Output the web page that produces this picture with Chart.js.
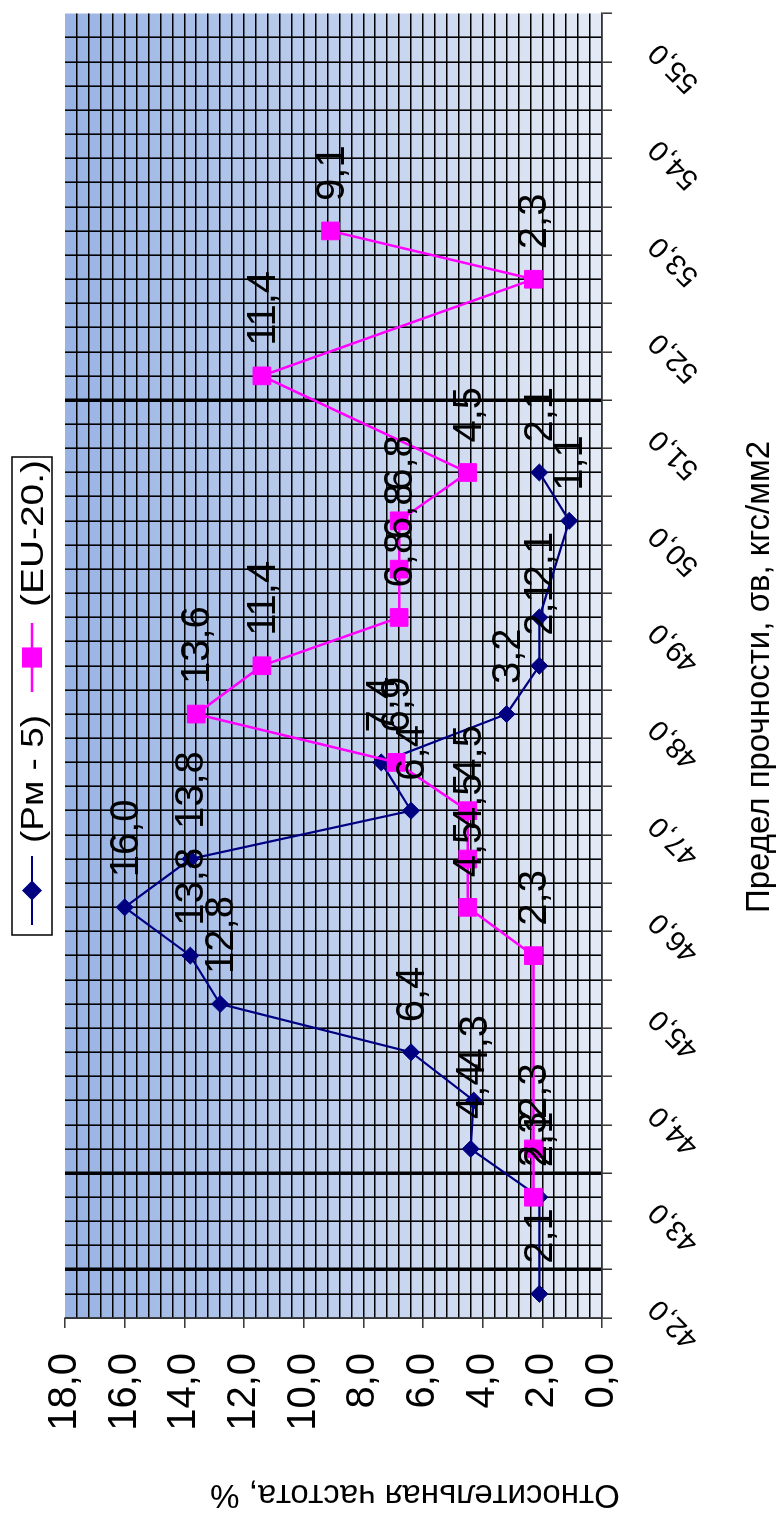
<!DOCTYPE html>
<html>
<head>
<meta charset="utf-8">
<script src="https://cdn.jsdelivr.net/npm/chart.js"></script>
<style>
  html, body { margin: 0; padding: 0; background: #fff; }
  body { width: 779px; height: 1517px; overflow: hidden; position: relative; }
  /* chart is drawn landscape and turned a quarter to the left */
  #wrap {
    position: absolute; left: 0; top: 0;
    width: 1517px; height: 779px;
    transform-origin: 0 0;
    transform: translate(0, 1517px) rotate(-90deg);
  }
</style>
</head>
<body>
<div id="wrap"><canvas id="chart" width="1517" height="779"></canvas></div>
<script>
// strength classes, kgf/mm2
const categories = [42.0, 42.5, 43.0, 43.5, 44.0, 44.5, 45.0, 45.5, 46.0, 46.5, 47.0, 47.5, 48.0, 48.5,
  49.0, 49.5, 50.0, 50.5, 51.0, 51.5, 52.0, 52.5, 53.0, 53.5, 54.0, 54.5, 55.0];

// relative frequency, %
const rm5 = [2.1, null, 2.1, 4.4, 4.3, 6.4, 12.8, 13.8, 16.0, 13.8, 6.4, 7.4, 3.2, 2.1,
  2.1, null, 1.1, 2.1, null, null, null, null, null, null, null, null, null];
const eu20 = [null, null, 2.3, 2.3, null, null, null, 2.3, 4.5, 4.5, 4.5, 6.9, 13.6, 11.4,
  6.8, 6.8, 6.8, 4.5, null, 11.4, null, 2.3, 9.1, null, null, null, null];

const xTickLabels = [42, 43, 44, 45, 46, 47, 48, 49, 50, 51, 52, 53, 54, 55];
const yTickLabels = [0, 2, 4, 6, 8, 10, 12, 14, 16, 18];

const seriesNames = ['(Рм - 5)', '(EU-20.)'];
const xTitle = 'Предел прочности, σв, кгс/мм2';
const yTitle = 'Относительная частота, %';

const FONT = '"Liberation Sans", Arial, sans-serif';
const fmt = v => v.toFixed(1).replace('.', ',');
const near = (a, b) => Math.abs(a - b) < 1e-6;

// grid every quarter class on x, every 0.4 % on y
const xGrid = [];
for (let i = 0; i <= 54; i++) xGrid.push(41.75 + i * 0.25);
const yGrid = [];
for (let i = 0; i <= 45; i++) yGrid.push(+(i * 0.4).toFixed(1));
const thickX = [42.25, 43.25, 51.25];

const toPoints = arr => categories.map((c, i) => ({ x: c, y: arr[i] }));

const bgPlugin = {
  id: 'plotBg',
  beforeDraw(chart) {
    const { ctx, chartArea: a } = chart;
    const g = ctx.createLinearGradient(0, a.top, 0, a.bottom);
    g.addColorStop(0, '#98b3e4');
    g.addColorStop(1, '#e4eaf5');
    ctx.save();
    ctx.fillStyle = g;
    ctx.fillRect(a.left, a.top, a.right - a.left, a.bottom - a.top);
    ctx.restore();
  }
};

const labelPlugin = {
  id: 'valueLabels',
  afterDatasetsDraw(chart) {
    const ctx = chart.ctx;
    ctx.save();
    ctx.font = '40px ' + FONT;
    ctx.fillStyle = '#000';
    ctx.textAlign = 'left';
    ctx.textBaseline = 'middle';
    chart.data.datasets.forEach((ds, i) => {
      chart.getDatasetMeta(i).data.forEach((pt, j) => {
        const v = ds.data[j].y;
        if (v == null) return;
        ctx.fillText(fmt(v), pt.x + 30, pt.y + 2);
      });
    });
    ctx.restore();
  }
};

const extrasPlugin = {
  id: 'extras',
  afterDraw(chart) {
    const ctx = chart.ctx;
    ctx.save();
    ctx.fillStyle = '#000';

    // axis titles
    ctx.font = '33px ' + FONT;
    ctx.textAlign = 'center';
    ctx.textBaseline = 'alphabetic';
    ctx.fillText(xTitle, 840, 769);
    ctx.save();
    ctx.translate(32, 415);
    ctx.rotate(-Math.PI / 2);
    ctx.fillText(yTitle, 0, 0);
    ctx.restore();

    // legend box
    const bx = 582, by = 12, bw = 478, bh = 40, cy = by + bh / 2;
    ctx.fillStyle = '#fff';
    ctx.fillRect(bx, by, bw, bh);
    ctx.strokeStyle = '#000';
    ctx.lineWidth = 1.5;
    ctx.strokeRect(bx, by, bw, bh);

    const items = [
      { ds: chart.data.datasets[0], x0: 592, tx: 674, tw: 128 },
      { ds: chart.data.datasets[1], x0: 825, tx: 910, tw: 147 }
    ];
    items.forEach(it => {
      ctx.strokeStyle = it.ds.borderColor;
      ctx.lineWidth = it.ds.borderWidth;
      ctx.beginPath();
      ctx.moveTo(it.x0, cy);
      ctx.lineTo(it.x0 + 69, cy);
      ctx.stroke();
      Chart.helpers.drawPoint(ctx, {
        pointStyle: it.ds.pointStyle, radius: it.ds.pointRadius, borderWidth: 1, rotation: 0
      }, it.x0 + 34.5, cy);
      ctx.fillStyle = it.ds.borderColor;
      ctx.fill();
      ctx.fillStyle = '#000';
      ctx.font = '32px ' + FONT;
      ctx.textAlign = 'left';
      ctx.textBaseline = 'middle';
      const w = ctx.measureText(it.ds.label).width;
      ctx.save();
      ctx.translate(it.tx, cy + 2);
      ctx.scale(it.tw / w, 1);
      ctx.fillText(it.ds.label, 0, 0);
      ctx.restore();
    });
    ctx.restore();
  }
};

new Chart(document.getElementById('chart'), {
  type: 'line',
  data: {
    datasets: [
      {
        label: seriesNames[0],
        data: toPoints(rm5),
        borderColor: '#000080',
        backgroundColor: '#000080',
        borderWidth: 2.2,
        pointStyle: 'rectRot',
        pointRadius: 8.5,
        pointBorderWidth: 1,
        tension: 0,
        spanGaps: true,
        order: 1
      },
      {
        label: seriesNames[1],
        data: toPoints(eu20),
        borderColor: '#ff00ff',
        backgroundColor: '#ff00ff',
        borderWidth: 2.5,
        pointStyle: 'rect',
        pointRadius: 12.5,
        pointBorderWidth: 1,
        tension: 0,
        spanGaps: true,
        order: 0
      }
    ]
  },
  options: {
    responsive: false,
    animation: false,
    devicePixelRatio: 1,
    layout: { padding: { left: 0, right: 7, top: 65, bottom: 0 } },
    plugins: { legend: { display: false }, tooltip: { enabled: false } },
    scales: {
      x: {
        type: 'linear',
        min: 41.75,
        max: 55.25,
        afterBuildTicks: axis => { axis.ticks = xGrid.map(v => ({ value: v })); },
        afterFit: axis => {
          axis.height = 177;
          axis.paddingLeft = 0;
          axis.paddingRight = 0;
        },
        border: { display: true, color: '#333', width: 1.5 },
        grid: {
          color: c => near(c.tick.value, 55.25) ? 'rgba(0,0,0,0)' : '#000',
          lineWidth: c => thickX.some(t => near(t, c.tick.value)) ? 3.5 : 1.6,
          tickColor: c => near(((c.tick.value - 41.75) / 0.5) % 1, 0) ? '#333' : 'rgba(0,0,0,0)',
          tickWidth: 1.5,
          tickLength: 10
        },
        ticks: {
          autoSkip: false,
          minRotation: 45,
          maxRotation: 45,
          padding: 30,
          labelOffset: -10,
          color: '#000',
          font: { family: FONT, size: 29 },
          callback: v => xTickLabels.some(t => near(t, v)) ? fmt(v) : ''
        }
      },
      y: {
        min: 0,
        max: 18,
        afterBuildTicks: axis => { axis.ticks = yGrid.map(v => ({ value: v })); },
        afterFit: axis => {
          axis.width = 199;
          axis.paddingTop = 0;
          axis.paddingBottom = 0;
        },
        border: { display: true, color: '#333', width: 1.5 },
        grid: {
          color: c => near(c.tick.value, 18) ? 'rgba(0,0,0,0)' : '#000',
          lineWidth: 1.6,
          tickColor: c => yTickLabels.some(t => near(t, c.tick.value)) ? '#333' : 'rgba(0,0,0,0)',
          tickWidth: 1.5,
          tickLength: 10
        },
        ticks: {
          autoSkip: false,
          padding: 25,
          color: '#000',
          font: { family: FONT, size: 40 },
          callback: v => yTickLabels.some(t => near(t, v)) ? fmt(v) : ''
        }
      }
    }
  },
  plugins: [bgPlugin, labelPlugin, extrasPlugin]
});
</script>
</body>
</html>
